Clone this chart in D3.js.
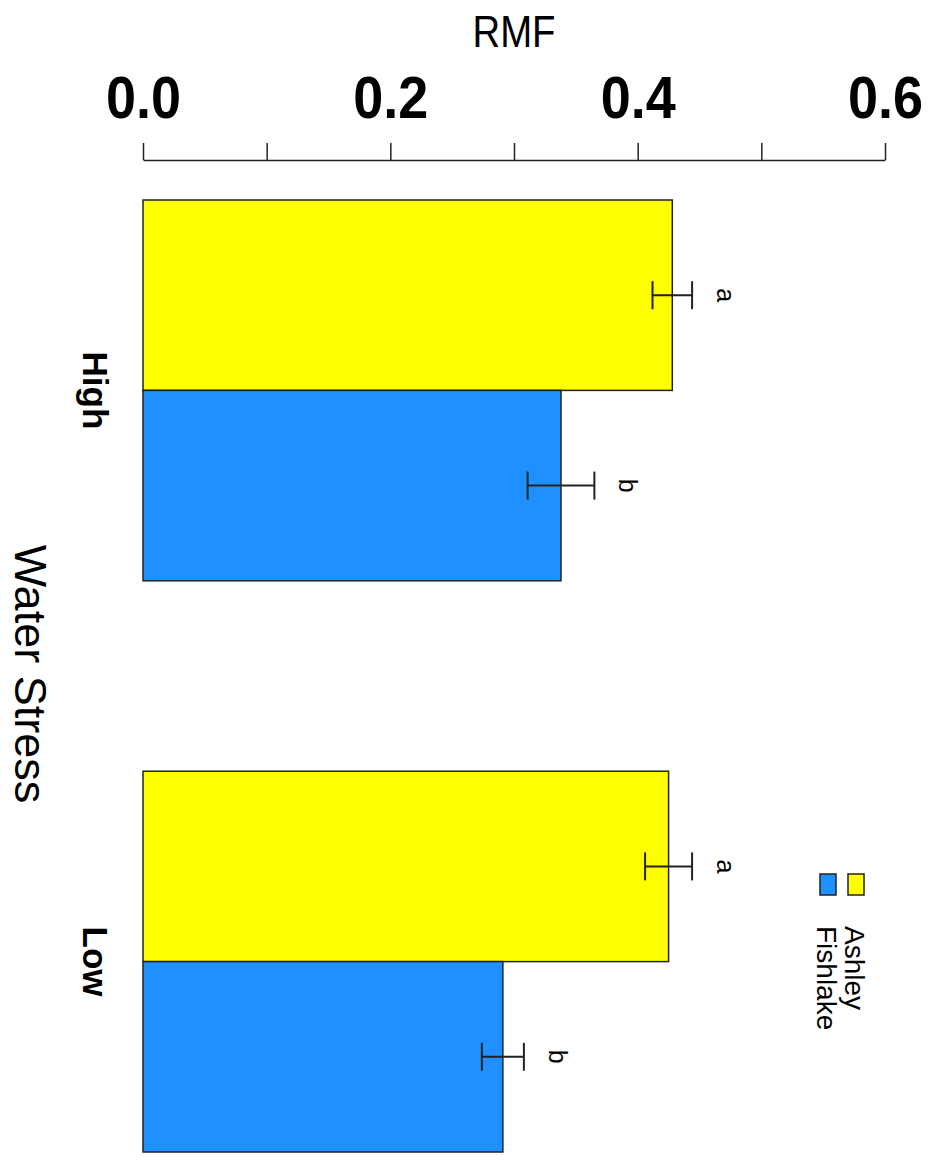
<!DOCTYPE html>
<html>
<head>
<meta charset="utf-8">
<script src="https://cdn.jsdelivr.net/npm/d3@7"></script>
<style>
  html, body { margin: 0; padding: 0; background: #fff; }
  svg { display: block; font-family: "Liberation Sans", Arial, sans-serif; }
</style>
</head>
<body>
<svg id="chart" width="932" height="1162"></svg>
<script>
// ---- data ----
const groups = ["High", "Low"];
const series = ["Ashley", "Fishlake"];
const ashleyMeans = [0.428, 0.425];
const fishlakeMeans = [0.338, 0.291];
const ashleySE = [0.016, 0.019];
const fishlakeSE = [0.027, 0.017];
const ashleyLetters = ["a", "a"];
const fishlakeLetters = ["b", "b"];
const tickValues = [0, 0.1, 0.2, 0.3, 0.4, 0.5, 0.6];
const tickLabels = ["0.0", "", "0.2", "", "0.4", "", "0.6"];
const axisTitle = "RMF";
const groupTitle = "Water Stress";

// ---- styles ----
const seriesColors = ["#FFFF00", "#1E90FF"];

const rows = [];
groups.forEach((g, gi) => {
  rows.push({ group: g, series: series[0], mean: ashleyMeans[gi], se: ashleySE[gi], letter: ashleyLetters[gi] });
  rows.push({ group: g, series: series[1], mean: fishlakeMeans[gi], se: fishlakeSE[gi], letter: fishlakeLetters[gi] });
});

const svg = d3.select("#chart");
svg.append("rect").attr("width", 932).attr("height", 1162).attr("fill", "#fff");

const x = d3.scaleLinear().domain([0, 0.6]).range([143, 885]);
const y0 = d3.scaleBand().domain(groups).range([200, 1152]).paddingInner(1 / 3).paddingOuter(0);
const y1 = d3.scaleBand().domain(series).range([0, y0.bandwidth()]).padding(0);
const color = d3.scaleOrdinal().domain(series).range(seriesColors);

// axis (top)
const axis = d3.axisTop(x)
  .tickValues(tickValues)
  .tickFormat((d, i) => tickLabels[i])
  .tickSize(17)
  .tickSizeOuter(0)
  .tickPadding(25);
const ax = svg.append("g").attr("transform", "translate(0,160)").call(axis);
ax.select(".domain").attr("stroke", "#222").attr("stroke-width", 1.5);
ax.selectAll(".tick line").attr("stroke", "#222").attr("stroke-width", 1.5);
ax.selectAll(".tick text")
  .attr("fill", "#000")
  .style("font-family", "'Liberation Sans', Arial, sans-serif")
  .style("font-size", "60px")
  .style("font-weight", "bold")
  .attr("dy", "0")
  .each(function () {
    if (this.textContent) {
      d3.select(this).attr("textLength", 75).attr("lengthAdjust", "spacingAndGlyphs");
    }
  });

svg.append("text")
  .attr("x", (x(0) + x(0.6)) / 2)
  .attr("y", 47)
  .attr("text-anchor", "middle")
  .attr("textLength", 83)
  .attr("lengthAdjust", "spacingAndGlyphs")
  .style("font-size", "44px")
  .attr("fill", "#000")
  .text(axisTitle);

// bars
const barY = d => y0(d.group) + y1(d.series);
svg.append("g").selectAll("rect").data(rows).join("rect")
  .attr("x", x(0))
  .attr("y", barY)
  .attr("width", d => x(d.mean) - x(0))
  .attr("height", y1.bandwidth())
  .attr("fill", d => color(d.series))
  .attr("stroke", "#222")
  .attr("stroke-width", 1.5);

// error bars
const capHalf = 14;
const eb = svg.append("g").attr("stroke", "#222").attr("stroke-width", 2).attr("fill", "none");
rows.forEach(d => {
  const cy = barY(d) + y1.bandwidth() / 2;
  eb.append("line").attr("x1", x(d.mean - d.se)).attr("x2", x(d.mean + d.se)).attr("y1", cy).attr("y2", cy);
  eb.append("line").attr("x1", x(d.mean - d.se)).attr("x2", x(d.mean - d.se)).attr("y1", cy - capHalf).attr("y2", cy + capHalf);
  eb.append("line").attr("x1", x(d.mean + d.se)).attr("x2", x(d.mean + d.se)).attr("y1", cy - capHalf).attr("y2", cy + capHalf);
});

// significance letters (rotated)
svg.append("g").selectAll("text").data(rows).join("text")
  .attr("transform", d => `translate(${x(d.mean + d.se) + 25},${barY(d) + y1.bandwidth() / 2}) rotate(90)`)
  .attr("text-anchor", "middle")
  .style("font-size", "25px")
  .attr("fill", "#000")
  .text(d => d.letter);

// group labels (rotated)
svg.append("g").selectAll("text").data(groups).join("text")
  .attr("transform", g => `translate(83,${y0(g) + y0.bandwidth() / 2}) rotate(90)`)
  .attr("text-anchor", "middle")
  .style("font-size", "35px")
  .style("font-weight", "bold")
  .attr("fill", "#000")
  .text(g => g);

svg.append("text")
  .attr("transform", `translate(15,${(y0.range()[0] + y0.range()[1]) / 2 - 2}) rotate(90)`)
  .attr("text-anchor", "middle")
  .style("font-size", "45px")
  .attr("fill", "#000")
  .text(groupTitle);

// legend (rotated)
const legX = [856, 828];
const leg = svg.append("g");
series.forEach((s, i) => {
  leg.append("rect")
    .attr("x", legX[i] - 8).attr("y", 874).attr("width", 16).attr("height", 21)
    .attr("fill", color(s)).attr("stroke", "#222").attr("stroke-width", 1.5);
  leg.append("text")
    .attr("transform", `translate(${legX[i] - 11},926) rotate(90)`)
    .style("font-size", "28px")
    .attr("fill", "#000")
    .text(s);
});
</script>
</body>
</html>
